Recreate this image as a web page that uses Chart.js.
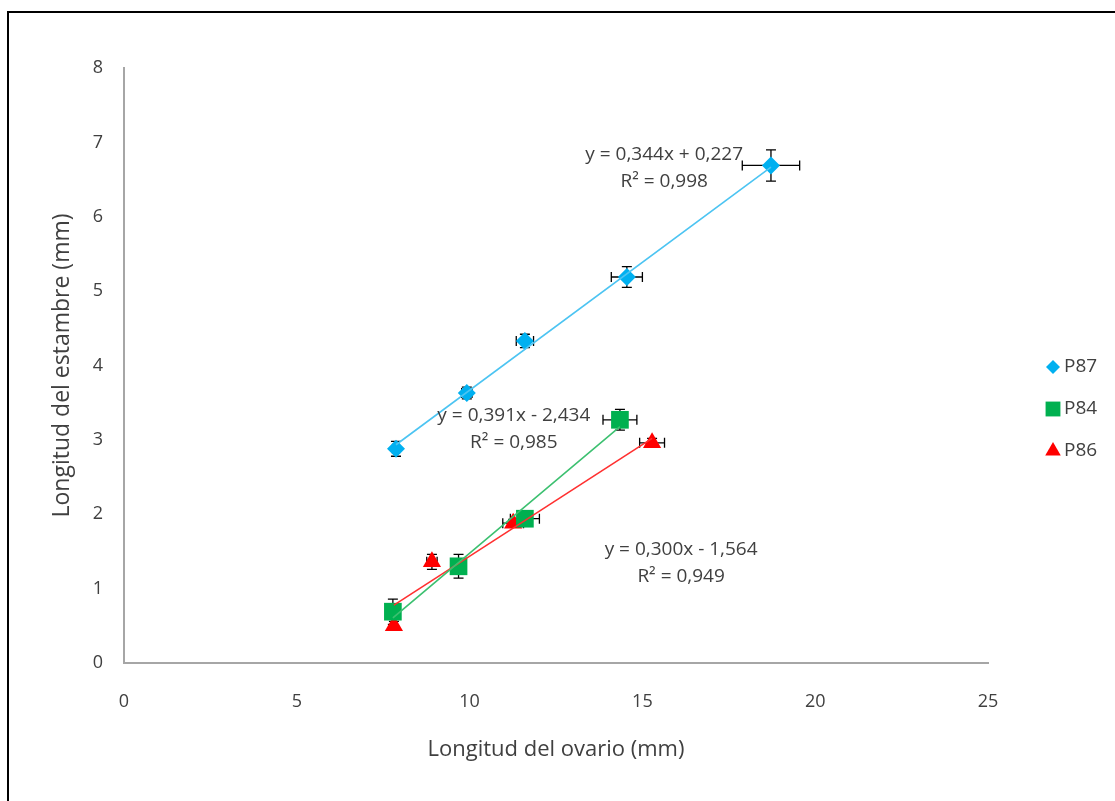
<!DOCTYPE html>
<html>
<head>
<meta charset="utf-8">
<script src="https://cdn.jsdelivr.net/npm/chart.js@4.4.1/dist/chart.umd.min.js"></script>
<style>
  html, body { margin: 0; padding: 0; background: #fff; }
  #wrap { width: 1115px; height: 801px; }
</style>
</head>
<body>
<div id="wrap"><canvas id="chart" width="1115" height="801"></canvas></div>
<script>
"use strict";

/* ── Data ─────────────────────────────────────────────── */
const seriesNames = ["P87", "P84", "P86"];

const p87X    = [7.87, 9.92, 11.6, 14.55, 18.72];
const p87Y    = [2.88, 3.63, 4.33, 5.19, 6.69];
const p87ErrX = [0.10, 0.15, 0.25, 0.45, 0.83];
const p87ErrY = [0.10, 0.08, 0.09, 0.14, 0.21];

const p84X    = [7.78, 9.68, 11.6, 14.35];
const p84Y    = [0.69, 1.30, 1.94, 3.27];
const p84ErrX = [0.08, 0.10, 0.42, 0.49];
const p84ErrY = [0.17, 0.16, 0.05, 0.14];

const p86X    = [7.81, 8.91, 11.26, 15.28];
const p86Y    = [0.50, 1.36, 1.88, 2.96];
const p86ErrX = [0.08, 0.15, 0.30, 0.36];
const p86ErrY = [0.06, 0.10, 0.05, 0.06];

const trendSlope     = [0.344, 0.391, 0.300];
const trendIntercept = [0.227, -2.434, -1.564];
const trendEq        = ["y = 0,344x + 0,227", "y = 0,391x - 2,434", "y = 0,300x - 1,564"];
const trendR2        = ["R² = 0,998", "R² = 0,985", "R² = 0,949"];

const xRange = [0, 25, 5];   // min, max, step
const yRange = [0, 8, 1];

const xTitle = "Longitud del ovario (mm)";
const yTitle = "Longitud del estambre (mm)";

/* ── Styles ───────────────────────────────────────────── */
const FONT   = "'Open Sans', 'Noto Sans', sans-serif";
const TEXT   = "#404040";
const colors = ["#00b0f0", "#00b050", "#ff0000"];
const lineColors = ["#4cc4f2", "#3cc070", "#ff3030"];
const shapes = ["rectRot", "rect", "triangle"];
const radii  = [9, 12.5, 10.5];

// where the equation labels sit (data units, centre of first line)
const eqPos = [[15.63, 6.84], [11.28, 3.33], [16.12, 1.53]];

const allX    = [p87X, p84X, p86X];
const allY    = [p87Y, p84Y, p86Y];
const allErrX = [p87ErrX, p84ErrX, p86ErrX];
const allErrY = [p87ErrY, p84ErrY, p86ErrY];

const toPoints = (xs, ys) => xs.map((x, i) => ({ x, y: ys[i] }));

/* ── Datasets ─────────────────────────────────────────── */
const datasets = [];
seriesNames.forEach((name, i) => {
  const xs = allX[i];
  const x0 = Math.min(...xs), x1 = Math.max(...xs);
  datasets.push({
    label: name + " trend",
    data: [x0, x1].map((x) => ({ x, y: trendSlope[i] * x + trendIntercept[i] })),
    showLine: true,
    borderColor: lineColors[i],
    borderWidth: 1.6,
    pointRadius: 0,
    order: 0,
  });
});
seriesNames.forEach((name, i) => {
  datasets.push({
    label: name,
    data: toPoints(allX[i], allY[i]),
    pointStyle: shapes[i],
    pointRadius: radii[i],
    pointHoverRadius: radii[i],
    backgroundColor: colors[i],
    borderColor: colors[i],
    borderWidth: 0,
    order: 1,
  });
});

/* ── Plugins ──────────────────────────────────────────── */
const errorBars = {
  id: "errorBars",
  beforeDatasetsDraw(chart) {
    const { ctx, scales: { x, y } } = chart;
    const cap = 5;
    ctx.save();
    ctx.strokeStyle = "#000";
    ctx.lineWidth = 1.3;
    allX.forEach((xs, s) => {
      xs.forEach((vx, k) => {
        const vy = allY[s][k];
        const px = x.getPixelForValue(vx), py = y.getPixelForValue(vy);
        const xl = x.getPixelForValue(vx - allErrX[s][k]);
        const xr = x.getPixelForValue(vx + allErrX[s][k]);
        const yt = y.getPixelForValue(vy + allErrY[s][k]);
        const yb = y.getPixelForValue(vy - allErrY[s][k]);
        ctx.beginPath();
        ctx.moveTo(xl, py); ctx.lineTo(xr, py);
        ctx.moveTo(xl, py - cap); ctx.lineTo(xl, py + cap);
        ctx.moveTo(xr, py - cap); ctx.lineTo(xr, py + cap);
        ctx.moveTo(px, yt); ctx.lineTo(px, yb);
        ctx.moveTo(px - cap, yt); ctx.lineTo(px + cap, yt);
        ctx.moveTo(px - cap, yb); ctx.lineTo(px + cap, yb);
        ctx.stroke();
      });
    });
    ctx.restore();
  },
};

const extras = {
  id: "extras",
  afterDraw(chart) {
    const { ctx, scales: { x, y } } = chart;
    ctx.save();

    // outer frame (only left/top edges are visible in the picture)
    ctx.strokeStyle = "#000";
    ctx.lineWidth = 2;
    ctx.beginPath();
    ctx.moveTo(8, 801); ctx.lineTo(8, 12); ctx.lineTo(1115, 12);
    ctx.stroke();

    // trendline equations
    ctx.fillStyle = TEXT;
    ctx.font = "19px " + FONT;
    ctx.textAlign = "center";
    ctx.textBaseline = "middle";
    eqPos.forEach(([ex, ey], i) => {
      const px = x.getPixelForValue(ex), py = y.getPixelForValue(ey);
      ctx.fillText(trendEq[i], px, py);
      ctx.fillText(trendR2[i], px, py + 27);
    });

    // legend
    ctx.textAlign = "left";
    ctx.font = "19px " + FONT;
    const legR = [7, 10.5, 9];
    seriesNames.forEach((name, i) => {
      const ly = 367 + i * 42;
      ctx.fillStyle = colors[i];
      ctx.strokeStyle = colors[i];
      Chart.helpers.drawPoint(ctx, { pointStyle: shapes[i], radius: legR[i], rotation: 0, borderWidth: 0 }, 1053, ly);
      ctx.fillStyle = TEXT;
      ctx.fillText(name, 1064, ly);
    });
    ctx.restore();
  },
};

/* ── Chart ────────────────────────────────────────────── */
new Chart(document.getElementById("chart"), {
  type: "scatter",
  data: { datasets },
  plugins: [errorBars, extras],
  options: {
    responsive: false,
    animation: false,
    events: [],
    layout: { padding: { top: 68, right: 127, bottom: 0, left: 0 } },
    plugins: { legend: { display: false }, tooltip: { enabled: false } },
    scales: {
      x: {
        type: "linear",
        min: xRange[0], max: xRange[1],
        ticks: { stepSize: xRange[2], padding: 28, color: TEXT, font: { family: FONT, size: 18 } },
        grid: { display: false, drawTicks: false },
        border: { display: true, color: "#a6a6a6", width: 2 },
        title: { display: true, text: xTitle, color: TEXT, font: { family: FONT, size: 22 }, padding: { top: 0, bottom: 38 } },
        afterFit: (s) => { s.height = 801 - 663; },
      },
      y: {
        type: "linear",
        min: yRange[0], max: yRange[1],
        ticks: { stepSize: yRange[2], padding: 21, color: TEXT, font: { family: FONT, size: 18 } },
        grid: { display: false, drawTicks: false },
        border: { display: true, color: "#a6a6a6", width: 2 },
        title: { display: true, text: yTitle, color: TEXT, font: { family: FONT, size: 23 }, padding: { top: 49, bottom: 0 } },
        afterFit: (s) => { s.width = 124; },
      },
    },
  },
});
</script>
</body>
</html>
